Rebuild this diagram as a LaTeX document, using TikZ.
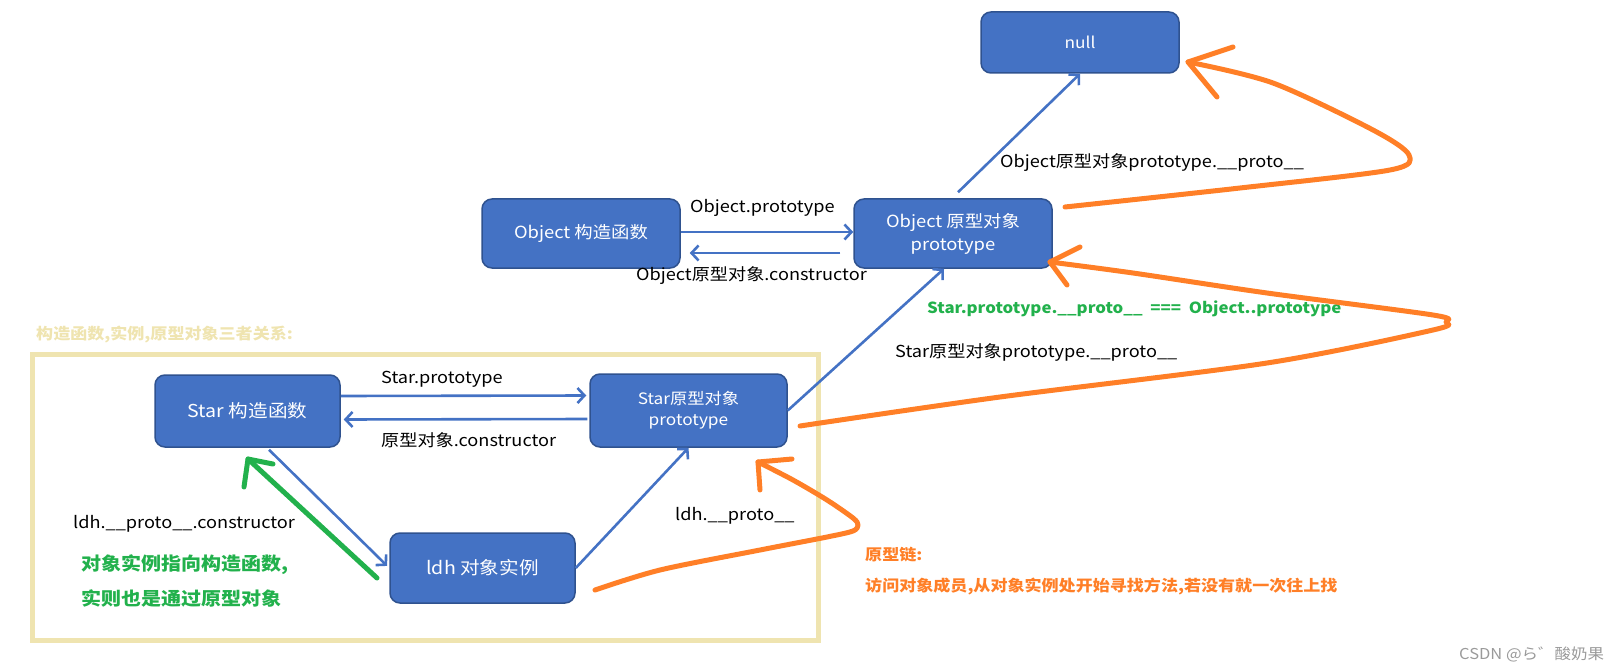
\documentclass[tikz,border=0pt]{standalone}
\usepackage{fontspec}
\setmainfont{Noto Sans CJK SC}[FakeStretch=1.1]
\usetikzlibrary{arrows.meta}
\definecolor{boxblue}{HTML}{4472C4}
\definecolor{boxedge}{HTML}{2F528F}
\definecolor{chainorange}{HTML}{FF7F27}
\definecolor{notegreen}{HTML}{22B14C}
\definecolor{framebeige}{HTML}{EFE4B0}
\definecolor{markgray}{HTML}{9A9A9A}
\newcommand\fsz[2]{\fontsize{#1}{#2}\selectfont}

\begin{document}
\begin{tikzpicture}[x=1pt, y=-1pt,
    box/.style={draw=boxedge, line width=1.5pt, fill=boxblue, rounded corners=10pt,
                text=white, align=center, inner sep=0pt},
    lbl/.style={anchor=base west, inner sep=0pt, font=\fsz{16.5}{20}},
    flow/.style={-{Straight Barb[length=7pt,width=15pt]}, boxblue, line width=2.6pt},
    hand/.style={line width=5pt, line cap=round, line join=round}]
    \useasboundingbox (0,0) rectangle (1622,663);

    % Frame of the three-part relation
    \draw[framebeige, line width=5pt] (32,354.5) rectangle (818.5,640);
    \node[lbl, font=\fsz{15.5}{18}\bfseries, framebeige] (title) at (36,339) {构造函数,实例,原型对象三者关系:};

    % Boxes
    \node[box, minimum width=198pt, minimum height=61pt, font=\fsz{15.7}{18}] (nu) at (1080,42.5) {null};
    \node[box, minimum width=198pt, minimum height=69pt, font=\fsz{16.7}{20}] (ob) at (581,233.5) {Object 构造函数};
    \node[box, minimum width=198pt, minimum height=69pt, font=\fsz{16.7}{23}] (op) at (953,233.5) {Object 原型对象\\prototype};
    \node[box, minimum width=185pt, minimum height=72pt, font=\fsz{17.8}{20}] (sc) at (247.5,411) {Star 构造函数};
    \node[box, minimum width=197pt, minimum height=73pt, font=\fsz{15.7}{21}] (sp) at (688.5,410.5) {Star原型对象\\prototype};
    \node[box, minimum width=185pt, minimum height=70pt, font=\fsz{17.8}{20}] (ld) at (482.5,568) {ldh 对象实例};

    % Blue links
    \draw[flow] ([yshift=1.5pt]ob.east) -- ([yshift=1.5pt]op.west);
    \draw[flow, shorten <=13pt, shorten >=9pt] ([yshift=-19.5pt]op.west) -- ([yshift=-19.5pt]ob.east);
    \draw[flow, shorten >=3pt] ([yshift=15pt]sc.east) -- ([yshift=15pt]sp.west);
    \draw[flow, shorten <=2pt, shorten >=3pt] ([yshift=-8.5pt]sp.west) -- ([yshift=-8.5pt]sc.east);
    \draw[flow, shorten >=3pt] ([xshift=21.5pt, yshift=-2pt]sc.south) -- (ld.west);
    \draw[flow] (ld.east) -- (sp.south);
    \draw[flow] (sp.east) -- ([xshift=-9pt]op.south);
    \draw[flow] ([xshift=5pt, yshift=6pt]op.north) -- (nu.south);

    % Link labels
    \node[lbl] (l1) at (690,213) {Object.prototype};
    \node[lbl] (l2) at (636,280) {Object原型对象.constructor};
    \node[lbl] (l3) at (1000,168) {Object原型对象prototype.\_\_proto\_\_};
    \node[lbl] (l4) at (381,383) {Star.prototype};
    \node[lbl] (l5) at (381,446) {原型对象.constructor};
    \node[lbl] (l6) at (73,528) {ldh.\_\_proto\_\_.constructor};
    \node[lbl] (l7) at (675,520) {ldh.\_\_proto\_\_};
    \node[lbl] (l8) at (895,357) {Star原型对象prototype.\_\_proto\_\_};
    \node[lbl, font=\fsz{15.3}{20}\bfseries, notegreen] (eq) at (927,313) {Star.prototype.\_\_proto\_\_\ \ ===\ \ Object..prototype};

    % Green note
    \node[lbl, font=\fsz{18.2}{22}\bfseries, notegreen] (g1) at (81,570) {对象实例指向构造函数,};
    \node[lbl, font=\fsz{18.2}{22}\bfseries, notegreen] (g2) at (81,605) {实则也是通过原型对象};
    \coordinate (gs) at (377,578);
    \coordinate (gt) at (248,459);
    \draw[hand, notegreen] (gs) -- (gt);
    \draw[hand, notegreen] (273,464) -- (gt) -- (244,487);

    % Orange chain
    \node[lbl, font=\fsz{15.5}{18}\bfseries, chainorange] (c1) at (865,560) {原型链:};
    \node[lbl, font=\fsz{15.5}{18}\bfseries, chainorange] (c2) at (865,591) {访问对象成员,从对象实例处开始寻找方法,若没有就一次往上找};

    \coordinate (t1) at (758,462);
    \coordinate (t2) at (1050,262);
    \coordinate (t3) at (1188,62);
    \draw[hand, chainorange] plot[smooth, tension=0.5] coordinates {(595,590) (660,570) (760,550) (827,537) (853,531) (858,525) (853,518) (827,500) (793,480) (t1)};
    \draw[hand, chainorange] (792,459) -- (t1) -- (760,490);
    \draw[hand, chainorange] plot[smooth, tension=0.5] coordinates {(800,426) (1000,397) (1267,363) (1433,330) (1446,322) (1433,315) (1267,293) (1133,273) (t2)};
    \draw[hand, chainorange] (1080,247) -- (t2) -- (1067,285);
    \draw[hand, chainorange] plot[smooth, tension=0.5] coordinates {(1065,207) (1240,188) (1390,170) (1409,155) (1373,130) (1273,83) (t3)};
    \draw[hand, chainorange] (1233,47) -- (t3) -- (1217,97);

    % Watermark
    \node[lbl, font=\fsz{15}{17}, markgray] (wm) at (1459,659) {CSDN @ら゛酸奶果};
\end{tikzpicture}
\end{document}
